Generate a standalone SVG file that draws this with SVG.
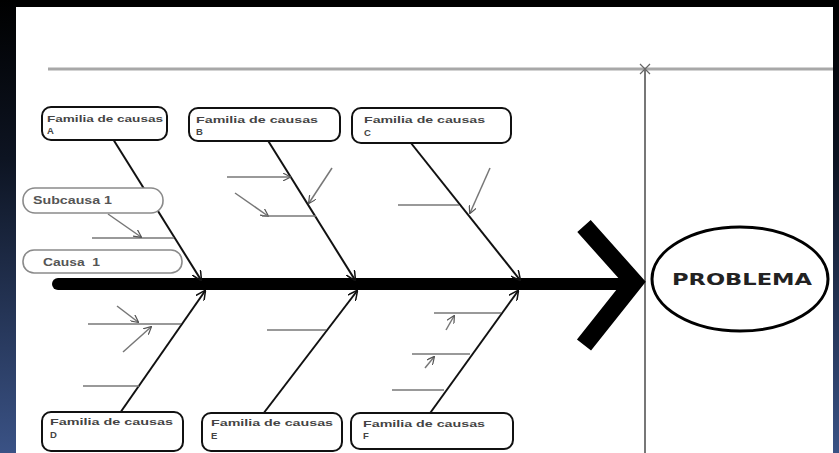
<svg xmlns="http://www.w3.org/2000/svg" width="839" height="453" viewBox="0 0 839 453">
  <defs>
    <linearGradient id="side" x1="0" y1="0" x2="0" y2="1">
      <stop offset="0" stop-color="#000000"/>
      <stop offset="0.35" stop-color="#0d1422"/>
      <stop offset="1" stop-color="#3a5285"/>
    </linearGradient>
    <marker id="arr" viewBox="0 0 10 10" refX="9" refY="5" markerWidth="10" markerHeight="10" markerUnits="userSpaceOnUse" orient="auto">
      <path d="M0,0 L10,5 L0,10" fill="none" stroke="#111" stroke-width="1.5"/>
    </marker>
    <marker id="arrs" viewBox="0 0 10 10" refX="9" refY="5" markerWidth="8" markerHeight="8" markerUnits="userSpaceOnUse" orient="auto">
      <path d="M0,0 L10,5 L0,10" fill="none" stroke="#555" stroke-width="1.5"/>
    </marker>
  </defs>
  <style>
    .fam { fill: #ffffff; stroke: #111; stroke-width: 2; }
    .sub { fill: #ffffff; stroke: #8a8a8a; stroke-width: 1.6; }
    .ft { font-family: "Liberation Sans", Arial, sans-serif; font-weight: bold; font-size: 9.5px; fill: #444; }
    .st { font-family: "Liberation Sans", Arial, sans-serif; font-weight: bold; font-size: 10px; fill: #555; }
    .bone { stroke: #111; stroke-width: 2; fill: none; }
    .twig { stroke: #777; stroke-width: 1.5; fill: none; }
  </style>

  <!-- background -->
  <rect x="0" y="0" width="839" height="453" fill="#000"/>
  <rect x="0" y="0" width="16" height="453" fill="url(#side)"/>
  <rect x="833" y="0" width="6" height="453" fill="url(#side)"/>
  <rect x="16" y="7" width="817" height="446" fill="#ffffff"/>

  <!-- frame lines -->
  <line x1="48" y1="69" x2="833" y2="69" stroke="#a8a8a8" stroke-width="3"/>
  <line x1="645" y1="69" x2="645" y2="453" stroke="#777" stroke-width="2"/>
  <path d="M640,64 L650,74 M650,64 L640,74" stroke="#666" stroke-width="1.2"/>

  <!-- spine and head -->
  <g id="spine">
    <line x1="58" y1="284" x2="632" y2="284" stroke="#000" stroke-width="12" stroke-linecap="round"/>
    <polyline points="584,226 634,282 584,345" fill="none" stroke="#000" stroke-width="18" stroke-linejoin="miter"/>
  </g>

  <!-- connectors -->
  <g id="connectors">
    <line class="bone" x1="108" y1="131" x2="201" y2="280" marker-end="url(#arr)"/>
    <line class="bone" x1="262" y1="131" x2="355" y2="280" marker-end="url(#arr)"/>
    <line class="bone" x1="403" y1="133" x2="520" y2="280" marker-end="url(#arr)"/>
    <line class="bone" x1="120" y1="413" x2="205" y2="291" marker-end="url(#arr)"/>
    <line class="bone" x1="263" y1="414" x2="357" y2="291" marker-end="url(#arr)"/>
    <line class="bone" x1="428" y1="416" x2="518" y2="291" marker-end="url(#arr)"/>

    <!-- A twigs -->
    <line class="twig" x1="92" y1="238" x2="174" y2="238"/>
    <line class="twig" x1="108" y1="214" x2="141" y2="237" marker-end="url(#arrs)"/>
    <!-- B twigs -->
    <line class="twig" x1="227" y1="177" x2="290" y2="177" marker-end="url(#arrs)"/>
    <line class="twig" x1="235" y1="193" x2="268" y2="216" marker-end="url(#arrs)"/>
    <line class="twig" x1="262" y1="216" x2="316" y2="216"/>
    <line class="twig" x1="332" y1="168" x2="309" y2="203" marker-end="url(#arrs)"/>
    <!-- C twigs -->
    <line class="twig" x1="398" y1="205" x2="459" y2="205"/>
    <line class="twig" x1="490" y1="168" x2="470" y2="213" marker-end="url(#arrs)"/>
    <!-- D twigs -->
    <line class="twig" x1="88" y1="324" x2="181" y2="324"/>
    <line class="twig" x1="117" y1="306" x2="138" y2="322" marker-end="url(#arrs)"/>
    <line class="twig" x1="123" y1="352" x2="151" y2="327" marker-end="url(#arrs)"/>
    <line class="twig" x1="83" y1="386" x2="139" y2="386"/>
    <!-- E twigs -->
    <line class="twig" x1="267" y1="330" x2="326" y2="330"/>
    <!-- F twigs -->
    <line class="twig" x1="434" y1="313" x2="501" y2="313"/>
    <line class="twig" x1="446" y1="330" x2="454" y2="316" marker-end="url(#arrs)"/>
    <line class="twig" x1="412" y1="354" x2="470" y2="354"/>
    <line class="twig" x1="425" y1="368" x2="434" y2="357" marker-end="url(#arrs)"/>
    <line class="twig" x1="392" y1="390" x2="444" y2="390"/>
  </g>

  <!-- family boxes -->
  <g id="box-A">
    <rect class="fam" x="42" y="107" width="125" height="33" rx="9"/>
    <text class="ft" x="47" y="122" textLength="116" lengthAdjust="spacingAndGlyphs">Familia de causas</text>
    <text class="ft" x="47" y="134">A</text>
  </g>
  <g id="box-B">
    <rect class="fam" x="189" y="108" width="151" height="33" rx="9"/>
    <text class="ft" x="196" y="123" textLength="122" lengthAdjust="spacingAndGlyphs">Familia de causas</text>
    <text class="ft" x="196" y="135">B</text>
  </g>
  <g id="box-C">
    <rect class="fam" x="352" y="108" width="159" height="35" rx="9"/>
    <text class="ft" x="364" y="123" textLength="121" lengthAdjust="spacingAndGlyphs">Familia de causas</text>
    <text class="ft" x="364" y="136">C</text>
  </g>
  <g id="box-D">
    <rect class="fam" x="42" y="412" width="141" height="39" rx="9"/>
    <text class="ft" x="50" y="425" textLength="123" lengthAdjust="spacingAndGlyphs">Familia de causas</text>
    <text class="ft" x="50" y="438">D</text>
  </g>
  <g id="box-E">
    <rect class="fam" x="202" y="413" width="140" height="38" rx="9"/>
    <text class="ft" x="211" y="426" textLength="122" lengthAdjust="spacingAndGlyphs">Familia de causas</text>
    <text class="ft" x="211" y="439">E</text>
  </g>
  <g id="box-F">
    <rect class="fam" x="351" y="413" width="162" height="36" rx="9"/>
    <text class="ft" x="363" y="427" textLength="122" lengthAdjust="spacingAndGlyphs">Familia de causas</text>
    <text class="ft" x="363" y="439">F</text>
  </g>

  <!-- subcause boxes -->
  <g id="subcausa-1">
    <rect class="sub" x="23" y="188" width="140" height="25" rx="12"/>
    <text class="st" x="33" y="204" textLength="79" lengthAdjust="spacingAndGlyphs">Subcausa 1</text>
  </g>
  <g id="causa-1">
    <rect class="sub" x="23" y="250" width="159" height="23" rx="11"/>
    <text class="st" x="43" y="266" textLength="57" lengthAdjust="spacingAndGlyphs" xml:space="preserve">Causa  1</text>
  </g>

  <!-- problem -->
  <g id="problema">
    <ellipse cx="740" cy="279" rx="88" ry="52" fill="#fff" stroke="#000" stroke-width="3"/>
    <text x="742" y="285" text-anchor="middle" textLength="140" lengthAdjust="spacingAndGlyphs" font-family="'DejaVu Sans', sans-serif" font-weight="900" font-size="16" fill="#222">PROBLEMA</text>
  </g>
</svg>
